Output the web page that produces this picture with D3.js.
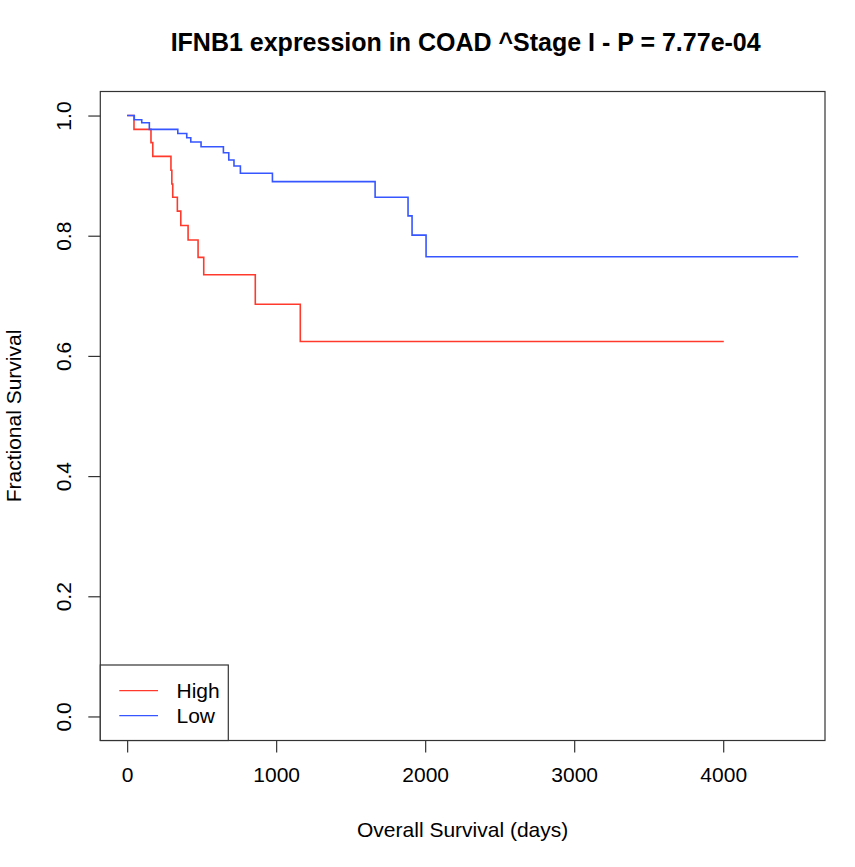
<!DOCTYPE html>
<html>
<head>
<meta charset="utf-8">
<script src="https://cdn.jsdelivr.net/npm/d3@7"></script>
<style>
  html, body { margin: 0; padding: 0; background: #fff; }
  text { font-family: "Liberation Sans", Arial, Helvetica, sans-serif; fill: #000; }
</style>
</head>
<body>
<svg id="chart" width="855" height="867"></svg>
<script>
// ---- data ----
const titleText = "IFNB1 expression in COAD ^Stage I - P = 7.77e-04";
const xLabel = "Overall Survival (days)";
const yLabel = "Fractional Survival";
const xTicks = [0, 1000, 2000, 3000, 4000];
const yTicks = [0.0, 0.2, 0.4, 0.6, 0.8, 1.0];
const yTickLabels = ["0.0", "0.2", "0.4", "0.6", "0.8", "1.0"];
const groups = ["High", "Low"];
const groupColors = ["#ff3a2c", "#3656ff"];

const highTimes = [0, 46, 160, 172, 294, 300, 306, 337, 360, 409, 476, 514, 860, 1162, 4004];
const highSurv  = [1.0, 0.977, 0.955, 0.932, 0.909, 0.886, 0.864, 0.841, 0.817, 0.793, 0.764, 0.735, 0.686, 0.624, 0.624];

const lowTimes = [0, 48, 98, 149, 340, 400, 427, 496, 646, 682, 717, 760, 975, 1664, 1885, 1912, 2006, 4503];
const lowSurv  = [1.0, 0.993, 0.988, 0.977, 0.970, 0.963, 0.956, 0.948, 0.938, 0.926, 0.916, 0.904, 0.890, 0.864, 0.833, 0.801, 0.765, 0.765];

// ---- layout ----
const svg = d3.select("#chart");
const box = { left: 100.3, right: 825, top: 91.5, bottom: 740.5 };
const xDomain = [0, 4503];
const yDomain = [0, 1];
const xPad = (xDomain[1] - xDomain[0]) * 0.04;
const yPad = (yDomain[1] - yDomain[0]) * 0.04;

const x = d3.scaleLinear().domain([xDomain[0] - xPad, xDomain[1] + xPad]).range([box.left, box.right]);
const y = d3.scaleLinear().domain([yDomain[0] - yPad, yDomain[1] + yPad]).range([box.bottom, box.top]);

const fs = 21;

// title
svg.append("text")
  .attr("x", (box.left + box.right) / 2 + 3)
  .attr("y", 51)
  .attr("text-anchor", "middle")
  .style("font-weight", "bold")
  .style("font-size", "25px")
  .text(titleText);

// curves
const series = [
  { times: highTimes, surv: highSurv, color: groupColors[0] },
  { times: lowTimes, surv: lowSurv, color: groupColors[1] }
];
const line = d3.line().x(d => x(d[0])).y(d => y(d[1])).curve(d3.curveStepAfter);
series.forEach(s => {
  const pts = s.times.map((t, i) => [t, s.surv[i]]);
  svg.append("path")
    .attr("d", line(pts))
    .attr("fill", "none")
    .attr("stroke", s.color)
    .attr("stroke-width", 1.6);
});

// box
svg.append("rect")
  .attr("x", box.left).attr("y", box.top)
  .attr("width", box.right - box.left).attr("height", box.bottom - box.top)
  .attr("fill", "none").attr("stroke", "#333").attr("stroke-width", 1.2);

// x axis
const xAxis = d3.axisBottom(x).tickValues(xTicks).tickSize(12).tickPadding(15).tickFormat(d3.format("d"));
const gx = svg.append("g").attr("transform", `translate(0,${box.bottom})`).call(xAxis);
gx.select(".domain").remove();
gx.selectAll(".tick line").attr("stroke", "#333").attr("stroke-width", 1.2);
gx.selectAll(".tick text").style("font-size", fs + "px").style("font-family", "Liberation Sans, Arial, sans-serif").attr("fill", "#000");

// y axis
const yAxis = d3.axisLeft(y).tickValues(yTicks).tickSize(12).tickFormat((d, i) => yTickLabels[i]);
const gy = svg.append("g").attr("transform", `translate(${box.left},0)`).call(yAxis);
gy.select(".domain").remove();
gy.selectAll(".tick line").attr("stroke", "#333").attr("stroke-width", 1.2);
gy.selectAll(".tick text")
  .style("font-size", fs + "px").style("font-family", "Liberation Sans, Arial, sans-serif").attr("fill", "#000")
  .attr("x", 0).attr("dy", null)
  .attr("text-anchor", "middle")
  .attr("transform", "translate(-37,0) rotate(-90)")
  .attr("y", 0).attr("dominant-baseline", "central");

// axis labels
svg.append("text")
  .attr("x", (box.left + box.right) / 2)
  .attr("y", 837)
  .attr("text-anchor", "middle")
  .style("font-size", fs + "px")
  .text(xLabel);
svg.append("text")
  .attr("transform", `translate(21,${(box.top + box.bottom) / 2}) rotate(-90)`)
  .attr("text-anchor", "middle")
  .style("font-size", fs + "px")
  .text(yLabel);

// legend
const lg = { x0: box.left, x1: 228.3, y0: 665, y1: box.bottom };
svg.append("rect")
  .attr("x", lg.x0).attr("y", lg.y0)
  .attr("width", lg.x1 - lg.x0).attr("height", lg.y1 - lg.y0)
  .attr("fill", "#fff").attr("stroke", "#333").attr("stroke-width", 1.2);
const legendY = d3.scalePoint().domain(groups).range([690.7, 715.7]);
groups.forEach((g, i) => {
  svg.append("line")
    .attr("x1", 119.3).attr("x2", 158)
    .attr("y1", legendY(g)).attr("y2", legendY(g))
    .attr("stroke", groupColors[i]).attr("stroke-width", 1.2);
  svg.append("text")
    .attr("x", 176.5).attr("y", legendY(g))
    .attr("dominant-baseline", "central")
    .style("font-size", fs + "px")
    .text(g);
});
</script>
</body>
</html>
